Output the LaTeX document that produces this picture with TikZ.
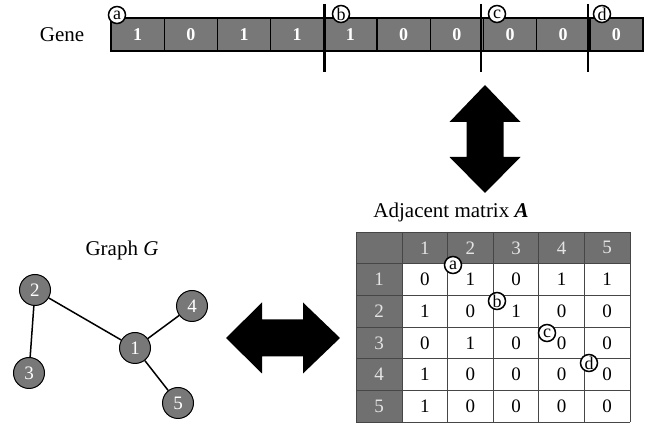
\documentclass[tikz,border=0pt]{standalone}
\usepackage{fontspec}
\setmainfont{Liberation Serif}
\definecolor{cellgray}{RGB}{120,120,120}
\definecolor{headgray}{RGB}{112,112,112}
\definecolor{headtext}{RGB}{228,228,228}
\definecolor{gridgray}{RGB}{70,70,70}
\tikzset{
  genecell/.style={draw=black, line width=1.4pt, fill=cellgray, minimum width=53.2pt,
    minimum height=33pt, inner sep=0pt, text=white, font=\fontsize{18}{18}\selectfont\bfseries},
  tag/.style={circle, draw=black, line width=1.5pt, fill=white, minimum size=17pt,
    inner sep=0pt, font=\fontsize{18}{18}\selectfont},
  gnode/.style={circle, draw=black, line width=1pt, fill=cellgray, minimum size=31pt,
    inner sep=0pt, text=white, font=\fontsize{19}{19}\selectfont},
  edge/.style={line width=1.5pt},
  splitline/.style={line width=2.6pt},
  title/.style={font=\fontsize{21}{24}\selectfont, inner sep=0pt},
  hdr/.style={text=headtext, font=\fontsize{19}{19}\selectfont, inner sep=0pt},
  val/.style={text=black, font=\fontsize{19}{19}\selectfont, inner sep=0pt},
  bigarrow/.style={fill=black, draw=none},
}
\begin{document}
\begin{tikzpicture}[x=1pt, y=-1pt]
\useasboundingbox (0,0) rectangle (657,427);

% ---- gene string ----
\node[title] (gene) at (62,35) {Gene};
\foreach \v [count=\i] in {1,0,1,1,1,0,0,0,0,0}
  \node[genecell] (g\i) at ({111+53.2*(\i-0.5)}, 34.5) {\v};

% split points between gene segments
\coordinate (s1t) at (324.5,4);  \coordinate (s1b) at (324.5,72);
\coordinate (s2t) at (481,4);    \coordinate (s2b) at (481,72);
\coordinate (s3t) at (588,4);    \coordinate (s3b) at (588,72);
\draw[splitline] (s1t) -- (s1b);
\draw[splitline] (s2t) -- (s2b);
\draw[splitline] (s3t) -- (s3b);

\node[tag] (ta) at (117,15) {a};
\node[tag] (tb) at (341,14) {b};
\node[tag] (tc) at (497,14) {c};
\node[tag] (td) at (602,14) {d};

% ---- vertical double arrow ----
\fill[bigarrow] (485,85) -- (449.5,122) -- (466.5,122) -- (466.5,157) -- (449.5,157)
  -- (485,193) -- (520.5,157) -- (503.5,157) -- (503.5,122) -- (520.5,122) -- cycle;

% ---- adjacency matrix ----
\node[title] (mtitle) at (451,212) {Adjacent matrix \textbf{\textit{A}}};
\fill[headgray] (356,232) rectangle (630,263.7);
\fill[headgray] (356,263.7) rectangle (402,422.2);
\foreach \x in {356,402,447.6,493.2,538.8,584.4,630}
  \draw[gridgray, line width=0.9pt] (\x,232) -- (\x,422.2);
\foreach \y in {232,263.7,295.4,327.1,358.8,390.5,422.2}
  \draw[gridgray, line width=0.9pt] (356,\y) -- (630,\y);
\foreach \c in {1,...,5} {
  \node[hdr] (ch\c) at ({402+45.6*(\c-0.5)}, 247.85) {\c};
  \node[hdr] (rh\c) at (379, {263.7+31.7*(\c-0.5)}) {\c};
}
\foreach \row [count=\r] in {{0,1,0,1,1},{1,0,1,0,0},{0,1,0,0,0},{1,0,0,0,0},{1,0,0,0,0}} {
  \foreach \v [count=\c] in \row
    \node[val] (m\r\c) at ({402+45.6*(\c-0.5)}, {263.7+31.7*(\r-0.5)}) {\v};
}
\node[tag] (ma) at (453,265) {a};
\node[tag] (mb) at (497,301) {b};
\node[tag] (mc) at (547,333) {c};
\node[tag] (md) at (589,363) {d};

% ---- horizontal double arrow ----
\fill[bigarrow] (226,338) -- (262,302.5) -- (262,319.5) -- (303,319.5) -- (303,302.5)
  -- (340,338) -- (303,373.5) -- (303,356.5) -- (262,356.5) -- (262,373.5) -- cycle;

% ---- graph G ----
\node[title] (gtitle) at (122,250) {Graph \textit{G}};
\node[gnode] (n1) at (135,348) {1};
\node[gnode] (n2) at (35,290) {2};
\node[gnode] (n3) at (29,373) {3};
\node[gnode] (n4) at (192,306) {4};
\node[gnode] (n5) at (178,403) {5};
\draw[edge] (n2) -- (n1);
\draw[edge] (n2) -- (n3);
\draw[edge] (n1) -- (n4);
\draw[edge] (n1) -- (n5);
\end{tikzpicture}
\end{document}
